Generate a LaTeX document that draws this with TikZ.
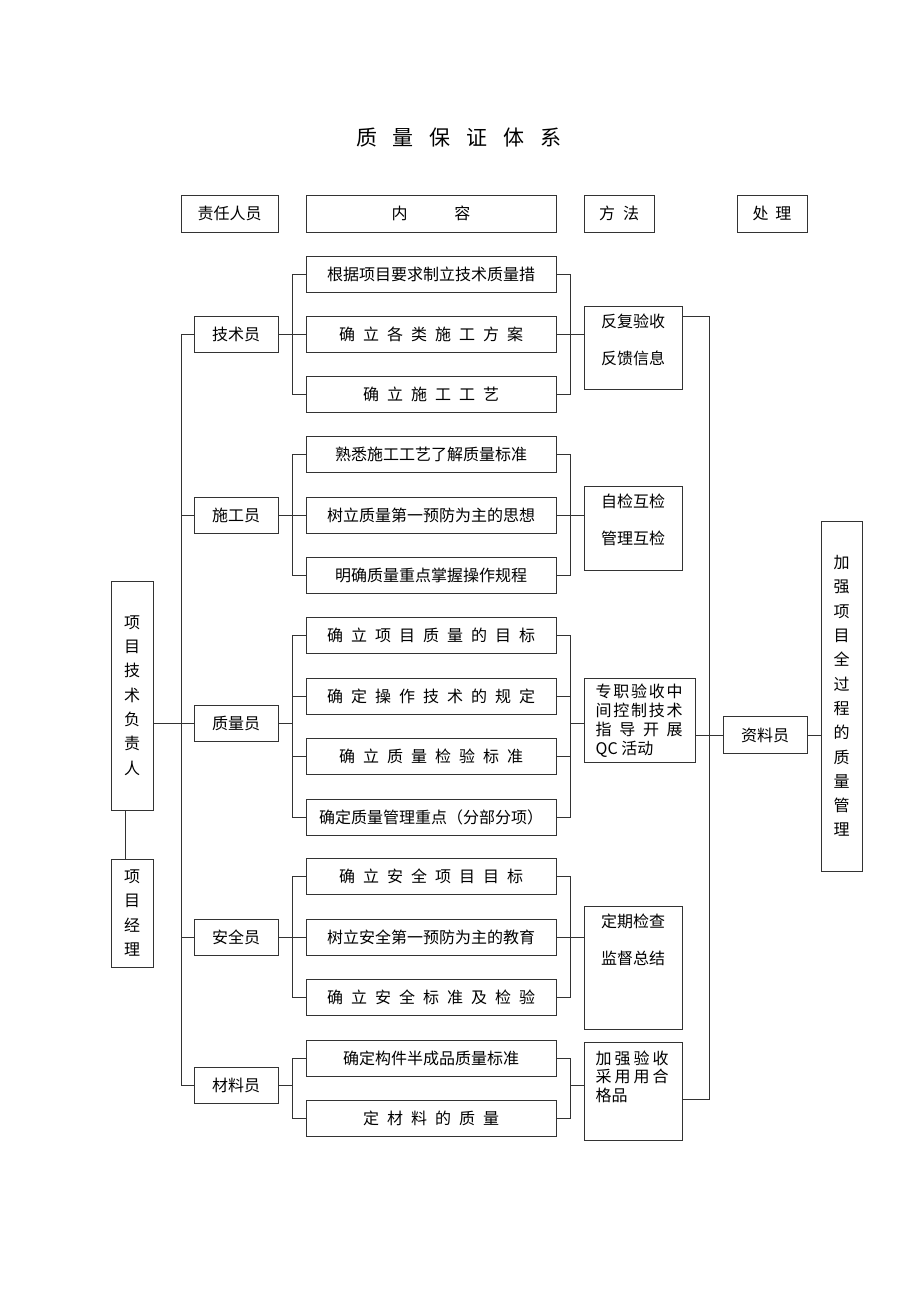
\documentclass[tikz,border=0pt]{standalone}
\usepackage{fontspec}
\setmainfont{Noto Sans CJK SC}
\usepackage{tikz}
\usetikzlibrary{positioning,calc}

% letter-spaced text: \spaced[gap]{chars}
\makeatletter
\newcommand\spaced[2][0.5em]{\def\spgap{\hspace{#1}}\sp@next#2\@nil}
\def\sp@next#1#2\@nil{#1\ifx\relax#2\relax\else\spgap\sp@next#2\@nil\fi}
\makeatother

\begin{document}
\begin{tikzpicture}[x=1pt, y=-1pt,
    box/.style={draw=black!80, line width=1pt, inner sep=0pt, minimum height=36pt, font=\fontsize{16pt}{20pt}\selectfont},
    contbox/.style={box, minimum width=250pt},
    rolebox/.style={box, minimum width=84pt},
    methbox/.style={box, minimum width=98pt},
    vertbox/.style={box, minimum width=42pt, align=center, font=\fontsize{16pt}{24.3pt}\selectfont},
    methtext/.style={inner sep=0pt, align=center, font=\fontsize{16pt}{37pt}\selectfont},
    link/.style={draw=black!80, line width=0.9pt}]
    \useasboundingbox (0,0) rectangle (920,1302);

    % Title
    \node (title) at (459,138) {\fontsize{21pt}{21pt}\selectfont\spaced[16pt]{质量保证体系}};

    % Header row
    \node[box, minimum width=97pt, minimum height=37pt] (zrry) at (229.5,213.5) {责任人员};
    \node[contbox, minimum height=37pt] (neirong) at (431,213.5) {\spaced[47pt]{内容}};
    \node[box, minimum width=70pt, minimum height=37pt] (fangfa) at (619,213.5) {\spaced{方法}};
    \node[box, minimum width=70pt, minimum height=37pt] (chuli) at (772,213.5) {\spaced[7pt]{处理}};

    % Left column
    \node[vertbox, minimum height=229pt] (xmfzr) at (132,695.5) {项\\目\\技\\术\\负\\责\\人};
    \node[vertbox, minimum height=108pt] (xmjl) at (132,913) {项\\目\\经\\理};

    % Roles
    \node[rolebox] (jishu) at (236,334) {技术员};
    \node[rolebox] (shigong) at (236,515) {施工员};
    \node[rolebox] (zhiliang) at (236,723) {质量员};
    \node[rolebox] (anquan) at (236,937) {安全员};
    \node[rolebox] (cailiao) at (236,1085) {材料员};

    % Content
    \node[contbox] (jishu1) at (431,274) {根据项目要求制立技术质量措};
    \node[contbox] (jishu2) at (431,334) {\spaced{确立各类施工方案}};
    \node[contbox] (jishu3) at (431,394) {\spaced{确立施工工艺}};
    \node[contbox] (shigong1) at (431,454) {熟悉施工工艺了解质量标准};
    \node[contbox] (shigong2) at (431,515) {树立质量第一预防为主的思想};
    \node[contbox] (shigong3) at (431,575) {明确质量重点掌握操作规程};
    \node[contbox] (zhiliang1) at (431,635) {\spaced{确立项目质量的目标}};
    \node[contbox] (zhiliang2) at (431,696) {\spaced{确定操作技术的规定}};
    \node[contbox] (zhiliang3) at (431,756) {\spaced{确立质量检验标准}};
    \node[contbox] (zhiliang4) at (431,817) {确定质量管理重点（分部分项）};
    \node[contbox] (anquan1) at (431,876) {\spaced{确立安全项目目标}};
    \node[contbox] (anquan2) at (431,937) {树立安全第一预防为主的教育};
    \node[contbox] (anquan3) at (431,997) {\spaced{确立安全标准及检验}};
    \node[contbox] (cailiao1) at (431,1058) {确定构件半成品质量标准};
    \node[contbox] (cailiao2) at (431,1118) {\spaced{定材料的质量}};

    % Methods
    \node[methbox, minimum height=83pt, label={[methtext, anchor=north, yshift=-8pt]north:{反复验收\\反馈信息}}] (fanfu) at (633,347.5) {};
    \node[methbox, minimum height=84pt, label={[methtext, anchor=north, yshift=-8pt]north:{自检互检\\管理互检}}] (zijian) at (633,528) {};
    \node[methbox, minimum width=111pt, minimum height=84pt,
        label={[methtext, align=left, anchor=north west, xshift=12pt, yshift=-6pt, font=\fontsize{16pt}{19pt}\selectfont]north west:{\makebox[87pt][s]{\spaced[\fill]{专职验收中}}\\\makebox[87pt][s]{\spaced[\fill]{间控制技术}}\\\makebox[87pt][s]{\spaced[\fill]{指导开展}}\\QC 活动}}] (zhuanzhi) at (639.5,720) {};
    \node[methbox, minimum height=123pt, label={[methtext, anchor=north, yshift=-8pt]north:{定期检查\\监督总结}}] (dingqi) at (633,967.5) {};
    \node[methbox, minimum height=98pt,
        label={[methtext, align=left, anchor=north west, xshift=12pt, yshift=-9pt, font=\fontsize{16pt}{18.5pt}\selectfont]north west:{\makebox[73pt][s]{\spaced[\fill]{加强验收}}\\\makebox[73pt][s]{\spaced[\fill]{采用用合}}\\格品}}] (jiaqiang) at (633,1091) {};

    % Right side
    \node[rolebox, minimum height=37pt] (ziliao) at (765,735) {资料员};
    \node[vertbox, minimum width=41pt, minimum height=350pt] (jqgl) at (841.5,696) {加\\强\\项\\目\\全\\过\\程\\的\\质\\量\\管\\理};

    % Brackets
    \coordinate (lbr) at (292,0);
    \coordinate (rbr) at (570,0);
    \foreach \a/\b in {jishu1/jishu3, shigong1/shigong3, zhiliang1/zhiliang4, anquan1/anquan3, cailiao1/cailiao2} {
        \draw[link] (\a.west) -| (lbr |- \b.west) -- (\b.west);
        \draw[link] (\a.east) -| (rbr |- \b.east) -- (\b.east);
    }

    % Role to content
    \draw[link] (jishu.east) -- (jishu2.west);
    \draw[link] (shigong.east) -- (shigong2.west);
    \draw[link] (zhiliang.east) -- (lbr |- zhiliang.east);
    \draw[link] (lbr |- zhiliang2.west) -- (zhiliang2.west);
    \draw[link] (lbr |- zhiliang3.west) -- (zhiliang3.west);
    \draw[link] (anquan.east) -- (anquan2.west);
    \draw[link] (cailiao.east) -- (lbr |- cailiao.east);

    % Content to method
    \draw[link] (jishu2.east) -- (fanfu.west |- jishu2.east);
    \draw[link] (shigong2.east) -- (zijian.west |- shigong2.east);
    \draw[link] (zhiliang2.east) -- (rbr |- zhiliang2.east);
    \draw[link] (zhiliang3.east) -- (rbr |- zhiliang3.east);
    \draw[link] (rbr |- zhiliang.east) -- (zhuanzhi.west |- zhiliang.east);
    \draw[link] (anquan2.east) -- (dingqi.west |- anquan2.east);
    \draw[link] (rbr |- cailiao.east) -- (jiaqiang.west |- cailiao.east);

    % Left trunk
    \coordinate (ltr) at (181,0);
    \draw[link] (jishu.west) -| (ltr |- cailiao.west) -- (cailiao.west);
    \draw[link] (ltr |- shigong.west) -- (shigong.west);
    \draw[link] (ltr |- anquan.west) -- (anquan.west);
    \draw[link] (xmfzr.east |- zhiliang.west) -- (zhiliang.west);
    \draw[link] ([xshift=-7pt]xmfzr.south) -- ([xshift=-7pt]xmjl.north);

    % Right trunk
    \coordinate (rt1) at (709,316);
    \coordinate (rt2) at (709,1099);
    \draw[link] (fanfu.east |- rt1) -- (rt1) -- (rt2) -- (jiaqiang.east |- rt2);
    \draw[link] (zhuanzhi.east |- ziliao.west) -- (ziliao.west);
    \draw[link] (ziliao.east) -- (jqgl.west |- ziliao.east);
\end{tikzpicture}
\end{document}
